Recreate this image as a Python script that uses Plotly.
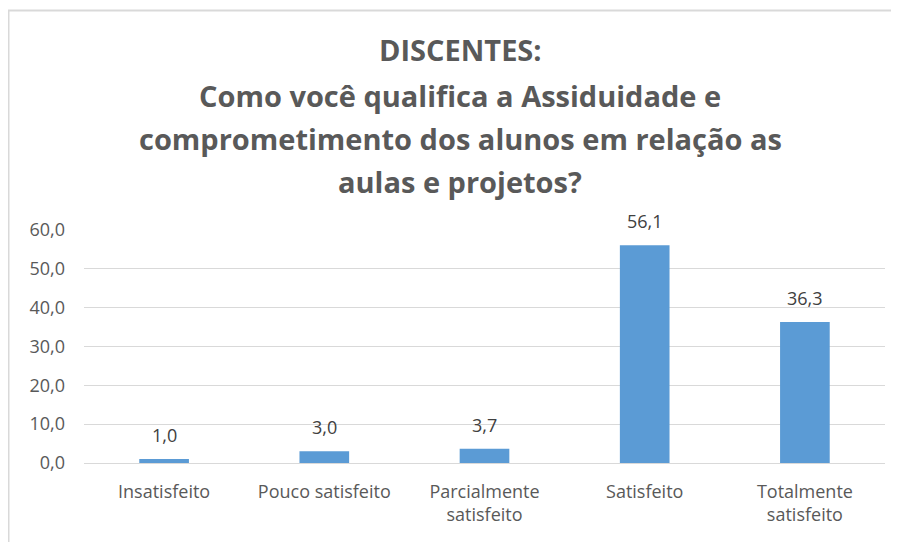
import plotly.graph_objects as go

categories = ["Insatisfeito", "Pouco satisfeito", "Parcialmente<br>satisfeito", "Satisfeito", "Totalmente<br>satisfeito"]
values = [1.0, 3.0, 3.7, 56.1, 36.3]
tick_vals = [0, 10, 20, 30, 40, 50, 60]
title_lines = ["DISCENTES:", "Como você qualifica a Assiduidade e",
               "comprometimento dos alunos em relação as", "aulas e projetos?"]

OFF = 8  # page body margin
W, H = 899, 542
# target pixel positions of plot area (in the page)
PL, PR, PT, PB = 84, 885, 230, 463
L, T = PL - OFF, PT - OFF
R, B = W - (PR - OFF), H - (PB - OFF)
pw, ph = W - L - R, H - T - B

def px(x):
    return (x - OFF - L) / pw

def py(y):
    return (H - B - (y - OFF)) / ph

fig = go.Figure()
fig.add_trace(go.Bar(
    x=categories, y=values,
    marker=dict(color="#5B9BD5", line=dict(width=0)),
    hoverinfo="x+y",
))

annotations = []
for c, v in zip(categories, values):
    annotations.append(dict(
        x=c, y=v, xref="x", yref="y", text=f"{v:.1f}".replace(".", ","),
        showarrow=False, xanchor="center", yanchor="bottom", yshift=10,
        font=dict(family="Open Sans", size=18, color="#404040"),
    ))

title_y = [50, 95, 138, 181]
for line, yy in zip(title_lines, title_y):
    annotations.append(dict(
        text=f"<b>{line}</b>", x=px(460), y=py(yy), xref="paper", yref="paper",
        xanchor="center", yanchor="middle", showarrow=False,
        font=dict(family="Open Sans", size=29, color="#595959"),
    ))

fig.update_layout(
    width=W, height=H,
    margin=dict(l=L, r=R, t=T, b=B),
    paper_bgcolor="white", plot_bgcolor="white",
    separators=",.",
    bargap=0.69,
    showlegend=False,
    annotations=annotations,
    shapes=[dict(type="rect", xref="paper", yref="paper",
                 x0=px(8.5), x1=px(899 + 40), y0=py(542 + 40), y1=py(10.5),
                 line=dict(color="#D9D9D9", width=2), fillcolor="rgba(0,0,0,0)", layer="below")],
    xaxis=dict(
        showgrid=False, showline=False, ticks="",
        tickfont=dict(family="Open Sans", size=18, color="#595959"),
        ticklabelstandoff=16,
    ),
    yaxis=dict(
        range=[0, 60], tickvals=tick_vals, tickformat=".1f",
        showgrid=True, gridcolor="#D9D9D9", gridwidth=1,
        zeroline=True, zerolinecolor="#D9D9D9", zerolinewidth=1,
        showline=False, ticks="",
        tickfont=dict(family="Open Sans", size=18, color="#595959"),
        ticklabelstandoff=18,
    ),
)

fig.write_html(
    "out.html",
    post_script="document.documentElement.style.overflow='hidden';document.body.style.overflow='hidden';",
)
